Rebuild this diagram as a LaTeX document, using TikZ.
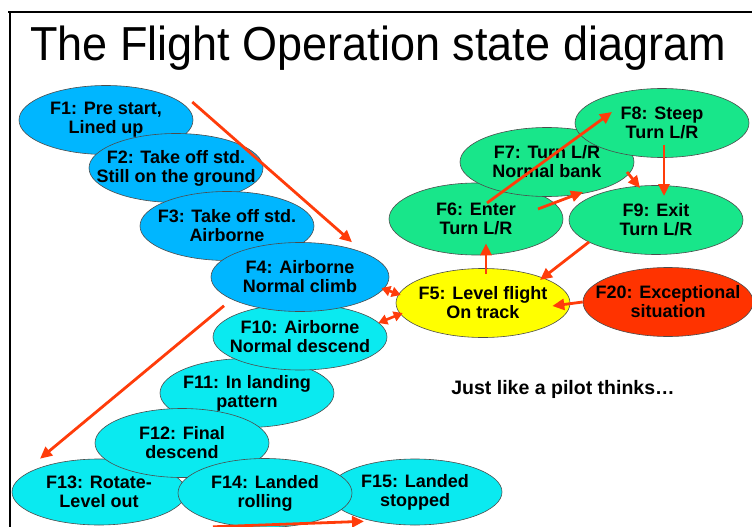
\documentclass[tikz,border=0pt]{standalone}
\usepackage{fontspec}
\setmainfont{Liberation Sans}
\usetikzlibrary{shapes,arrows.meta,calc,positioning}
\definecolor{climbblue}{RGB}{0,182,255}
\definecolor{descendcyan}{RGB}{10,234,240}
\definecolor{turngreen}{RGB}{24,230,138}
\definecolor{levelyellow}{RGB}{255,255,0}
\definecolor{alarmred}{RGB}{255,51,0}
\definecolor{arrowred}{RGB}{255,60,10}
\tikzset{
  state/.style={ellipse, draw=black!70, line width=0.6pt, inner sep=0pt,
    minimum width=174pt, minimum height=69pt},
  statetext/.style={inner sep=0pt, align=center,
    font=\fontsize{18}{19}\selectfont\bfseries},
  trans/.style={draw=arrowred, line width=2.8pt,
    -{Triangle[length=12pt,width=11pt]}},
  bothways/.style={draw=arrowred, line width=2.6pt,
    {Triangle[length=9pt,width=10pt]}-{Triangle[length=9pt,width=10pt]}}
}

\begin{document}
\begin{tikzpicture}[x=1pt,y=-1pt]
    \clip (0,0) rectangle (752,527);
    \fill[white] (0,0) rectangle (752,527);

    % Frame and title
    \draw[line width=2pt] (8,12) -- (752,12);
    \draw[line width=2pt] (10,12) -- (10,527);
    \node[anchor=base, font=\fontsize{45}{45}\selectfont, yscale=1.06] (title) at (378,61)
        {The Flight Operation state diagram};

    % Take off states
    \node[state, fill=climbblue] (f1) at (106,120) {};
    \node[statetext] (f1text) at (f1) {F1: Pre start,\\Lined up};
    \node[state, fill=climbblue] (f2) at (176,168) {};
    \node[statetext] (f2text) at (f2) {F2: Take off std.\\Still on the ground};
    \node[state, fill=climbblue] (f3) at (227,226) {};
    \node[statetext] (f3text) at (f3) {F3: Take off std.\\Airborne};

    % Descend and landing states
    \node[state, fill=descendcyan] (f11) at (247,393) {};
    \node[statetext] (f11text) at (f11) {F11: In landing\\pattern};
    \node[state, fill=descendcyan, minimum height=66pt] (f10) at (300,337) {};
    \node[statetext] (f10text) at (f10) {F10: Airborne\\Normal descend};
    \node[state, fill=climbblue, minimum width=178pt] (f4) at (300,277) {};
    \node[statetext] (f4text) at (f4) {F4: Airborne\\Normal climb};
    \node[state, fill=descendcyan, minimum height=66pt] (f13) at (99,492) {};
    \node[statetext] (f13text) at (f13) {F13: Rotate-\\Level out};
    \node[state, fill=descendcyan] (f12) at (182,443) {};
    \node[statetext] (f12text) at (f12) {F12: Final\\descend};
    \node[state, fill=descendcyan, minimum height=66pt] (f15) at (415,492) {};
    \node[statetext] (f15text) at (f15) {F15: Landed\\stopped};
    \node[state, fill=descendcyan] (f14) at (265,493) {};
    \node[statetext] (f14text) at (f14) {F14: Landed\\rolling};

    % Turn states
    \node[state, fill=turngreen, minimum height=72pt] (f6) at (476,219) {};
    \node[statetext] (f6text) at (f6) {F6: Enter\\Turn L/R};
    \node[state, fill=turngreen] (f7) at (547,162) {};
    \node[statetext] (f7text) at (f7) {F7: Turn L/R\\Normal bank};
    \node[state, fill=turngreen] (f8) at (662,123) {};
    \node[statetext] (f8text) at (f8) {F8: Steep\\Turn L/R};
    \node[state, fill=turngreen] (f9) at (656,220) {};
    \node[statetext] (f9text) at (f9) {F9: Exit\\Turn L/R};

    % Level flight and exception
    \node[state, fill=levelyellow] (f5) at (483,303) {};
    \node[statetext] (f5text) at (f5) {F5: Level flight\\On track};
    \node[state, fill=alarmred, minimum width=170pt] (f20) at (668,302) {};
    \node[statetext] (f20text) at (f20) {F20: Exceptional\\situation};

    \node[statetext, font=\fontsize{19.5}{20}\selectfont\bfseries] (note) at (563,389)
        {Just like a pilot thinks\dots};

    % Transitions
    \draw[trans] ($(f1.east)+(-1,-18)$) -- ($(f4.north)+(52,0)$);
    \draw[bothways] ($(f4.east)+(-8,11)$) -- ($(f5.west)+(5,-8)$);
    \draw[bothways] ($(f10.east)+(-9,-14)$) -- ($(f5.west)+(7,10)$);
    \draw[trans] ($(f4.south)+(-76,-6)$) -- ($(f13.north)+(-59,0)$);
    \draw[trans] ($(f14.south)+(-52,-1)$) -- ($(f15.south)+(-51,-4)$);
    \draw[trans] ($(f5.north)+(3,6)$) -- ($(f6.south)+(10,-12)$);
    \draw[trans] ($(f6)+(11,-16)$) -- ($(f8)+(-50,-11)$);
    \draw[trans] ($(f6)+(62,-10)$) -- ($(f7)+(36,30)$);
    \draw[trans] ($(f7)+(80,10)$) -- ($(f9)+(-16,-32)$);
    \draw[trans] ($(f8)+(2,22)$) -- ($(f9)+(8,-24)$);
    \draw[trans] ($(f9)+(-67,22)$) -- ($(f5)+(57,-23)$);
    \draw[trans] (f20.west) -- ($(f5.east)+(-18,3)$);
\end{tikzpicture}
\end{document}
